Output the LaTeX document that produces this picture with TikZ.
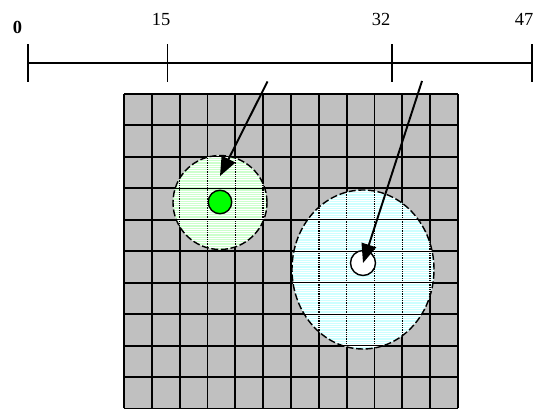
\documentclass[tikz,border=0pt]{standalone}
\usepackage{fontspec}
\setmainfont{Liberation Serif}
\usetikzlibrary{arrows.meta}
\definecolor{gris}{HTML}{C0C0C0}
\definecolor{verdeclaro}{HTML}{CCFFCC}
\definecolor{cianclaro}{HTML}{CCFFFF}
\definecolor{verde}{HTML}{00FF00}

\begin{document}
\begin{tikzpicture}[line width=1.1pt,>={Triangle[length=3.8mm,width=3mm]},
  marca/.style={font=\fontsize{10.5}{12}\selectfont,inner sep=0pt},
  borde/.style={dash pattern=on 4pt off 1.5pt,line width=0.8pt},
  punto/.style={circle,draw,line width=0.8pt,inner sep=0pt}]
  \useasboundingbox (0,0) rectangle (10.68,8.2);
  % regla con las marcas
  \draw (0.56,6.94) -- (10.64,6.94);
  \foreach \x in {0.56,3.35,7.84,10.64}
    \draw (\x,6.56) -- (\x,7.32);
  \node[marca,font=\bfseries\fontsize{10.5}{12}\selectfont] (m0) at (0.35,7.66) {0};
  \node[marca] (m15) at (3.22,7.81) {15};
  \node[marca] (m32) at (7.62,7.81) {32};
  \node[marca] (m47) at (10.48,7.81) {47};
  % malla gris
  \fill[gris] (2.48,0.03) rectangle (9.16,6.32);
  \foreach \i in {0,...,12}
    \draw (2.48+\i*0.5567,0.03) -- ++(0,6.29);
  \foreach \j in {0,...,10}
    \draw (2.48,0.03+\j*0.629) -- ++(6.68,0);
  % zonas rayadas
  \foreach \cx/\cy/\rx/\ry/\col in {4.40/4.15/0.94/0.94/verdeclaro,7.26/2.81/1.42/1.59/cianclaro}{
    \begin{scope}
      \clip (\cx,\cy) ellipse ({\rx} and {\ry});
      \fill[\col] (\cx,\cy) ellipse ({\rx} and {\ry});
      \foreach \i in {0,...,12}
        \draw[line width=0.8pt] (2.48+\i*0.5567,0.03) -- ++(0,6.29);
      \foreach \y in {0,0.045,...,3.3}
        \draw[white,line width=0.4pt] ({\cx-\rx},{\cy-\ry+\y}) -- ++({2*\rx},0);
      \foreach \j in {0,...,10}
        \draw[line width=0.6pt] (2.48,0.03+\j*0.629) -- ++(6.68,0);
    \end{scope}
    \draw[borde] (\cx,\cy) ellipse ({\rx} and {\ry});
  }
  % puntos y flechas
  \node[punto,fill=verde,minimum size=4.7mm] (vd) at (4.40,4.16) {};
  \node[punto,fill=white,minimum size=5mm] (bl) at (7.26,2.94) {};
  \coordinate (a1) at (5.35,6.57);
  \coordinate (a2) at (8.44,6.58);
  \draw[->,line width=1.1pt] (a1) -- ([yshift=2.7mm]vd.north);
  \draw[->,line width=1.1pt] (a2) -- (bl.center);
\end{tikzpicture}
\end{document}
